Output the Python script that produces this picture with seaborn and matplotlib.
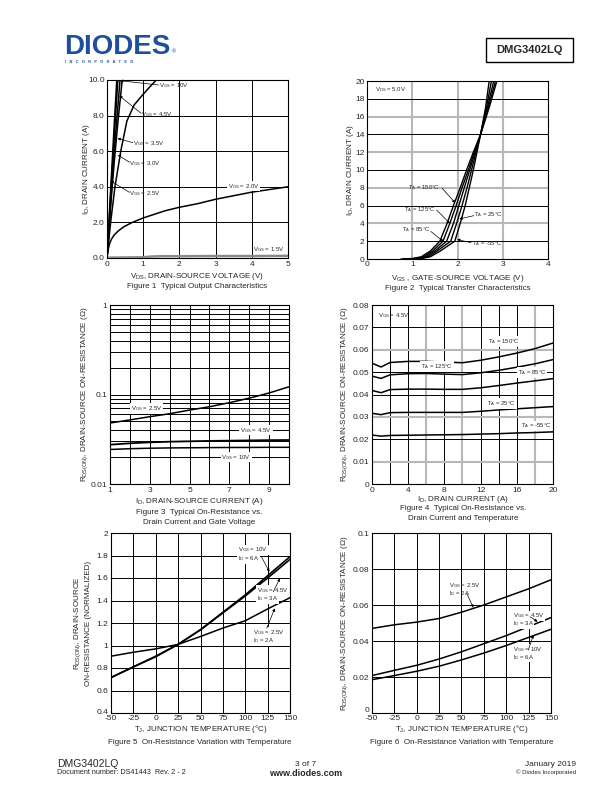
import numpy as np
import pandas as pd
import matplotlib
matplotlib.use('Agg')
import matplotlib.pyplot as plt
import matplotlib.transforms as mtrans
import seaborn as sns

sns.set_style('white')
plt.rcParams['font.family'] = ['Liberation Sans', 'DejaVu Sans']
plt.rcParams['mathtext.fontset'] = 'custom'
plt.rcParams['mathtext.rm'] = 'Liberation Sans'
plt.rcParams['mathtext.it'] = 'Liberation Sans:italic'
plt.rcParams['mathtext.default'] = 'regular'
plt.rcParams['axes.unicode_minus'] = False

# ---- Figure 1: output characteristics (VDS [V], ID [A]) ----
f1_vds_10v = [0, 0.1, 0.2, 0.27]
f1_id_10v = [0, 3.8, 7.5, 10]
f1_vds_45v = [0, 0.1, 0.2, 0.3]
f1_id_45v = [0, 3.5, 6.8, 10]
f1_vds_35v = [0, 0.1, 0.2, 0.36]
f1_id_35v = [0, 3.1, 6.0, 10]
f1_vds_30v = [0, 0.1, 0.2, 0.3, 0.42]
f1_id_30v = [0, 2.9, 5.4, 7.6, 10]
f1_vds_25v = [0, 0.05, 0.1, 0.22, 0.38, 0.55, 0.75, 1.0, 1.2, 1.36]
f1_id_25v = [0, 1.0, 2.0, 4.0, 6.0, 7.7, 8.6, 9.2, 9.65, 10]
f1_vds_20v = [0, 0.03, 0.07, 0.12, 0.2, 0.3, 0.46, 0.7, 1.0, 1.3, 1.6, 2.0, 2.5, 3.0, 3.5, 4.0, 4.5, 5.0]
f1_id_20v = [0, 0.45, 0.8, 1.05, 1.3, 1.5, 1.75, 2.0, 2.25, 2.45, 2.65, 2.85, 3.05, 3.3, 3.5, 3.7, 3.85, 4.0]
f1_vds_15v = [0, 0.5, 1.0, 1.2, 1.5, 2, 3, 4, 5]
f1_id_15v = [0.02, 0.03, 0.04, 0.08, 0.1, 0.1, 0.11, 0.11, 0.12]

# ---- Figure 2: transfer characteristics (VGS [V], ID [A]) ----
f2_id = [0, 0.05, 0.25, 0.9, 2, 4, 6, 8, 10, 12, 14, 17, 20]
f2_vgs_150 = [0.75, 1.0, 1.2, 1.4, 1.61, 1.77, 1.91, 2.06, 2.20, 2.35, 2.51, 2.70, 2.87]
f2_vgs_125 = [0.80, 1.05, 1.25, 1.45, 1.68, 1.83, 1.97, 2.10, 2.24, 2.37, 2.51, 2.68, 2.84]
f2_vgs_85 = [0.85, 1.1, 1.3, 1.5, 1.76, 1.91, 2.03, 2.15, 2.27, 2.39, 2.51, 2.66, 2.80]
f2_vgs_25 = [0.90, 1.15, 1.35, 1.55, 1.85, 1.98, 2.10, 2.21, 2.31, 2.41, 2.51, 2.64, 2.75]
f2_vgs_m55 = [0.95, 1.2, 1.4, 1.62, 1.94, 2.06, 2.17, 2.26, 2.35, 2.43, 2.51, 2.62, 2.70]

# ---- Figure 3: RDS(on) vs ID and VGS ----
f3_id = [1, 2, 3, 4, 5, 6, 7, 8, 9, 10]
f3_r_25v = [0.048, 0.052, 0.0565, 0.061, 0.067, 0.073, 0.081, 0.091, 0.104, 0.122]
f3_r_45v = [0.0275, 0.0285, 0.0292, 0.0297, 0.0300, 0.0303, 0.0305, 0.0307, 0.0309, 0.031]
f3_r_10v = [0.0243, 0.0248, 0.0251, 0.0253, 0.0254, 0.0255, 0.0256, 0.0256, 0.0257, 0.0257]

# ---- Figure 4: RDS(on) vs ID and temperature ----
f4_id = [0, 1, 2, 4, 6, 8, 10, 12, 14, 16, 18, 20]
f4_r_150 = [0.054, 0.0523, 0.0543, 0.0548, 0.0548, 0.0545, 0.0542, 0.0553, 0.0568, 0.0585, 0.0605, 0.0630]
f4_r_125 = [0.0482, 0.0472, 0.0488, 0.0493, 0.0494, 0.0491, 0.0489, 0.0497, 0.0508, 0.0522, 0.0537, 0.0556]
f4_r_85 = [0.0418, 0.0408, 0.0422, 0.0424, 0.0424, 0.0423, 0.0423, 0.0430, 0.0440, 0.0451, 0.0461, 0.0471]
f4_r_25 = [0.0316, 0.0310, 0.0319, 0.0320, 0.0320, 0.0320, 0.0320, 0.0325, 0.0331, 0.0336, 0.0341, 0.0346]
f4_r_m55 = [0.0219, 0.0214, 0.0217, 0.0218, 0.0219, 0.0220, 0.0221, 0.0223, 0.0225, 0.0228, 0.0230, 0.0233]

# ---- Figure 5: normalized RDS(on) vs TJ ----
f5_tj = [-50, -25, 0, 25, 50, 75, 100, 125, 150]
f5_n_10v = [0.715, 0.81, 0.905, 1.01, 1.14, 1.295, 1.45, 1.62, 1.79]
f5_n_45v = [0.715, 0.81, 0.90, 1.01, 1.14, 1.29, 1.44, 1.60, 1.765]
f5_n_25v = [0.905, 0.94, 0.97, 1.01, 1.08, 1.155, 1.22, 1.325, 1.425]

# ---- Figure 6: RDS(on) vs TJ ----
f6_tj = [-50, -25, 0, 25, 50, 75, 100, 125, 150]
f6_r_25v = [0.047, 0.049, 0.0505, 0.0525, 0.056, 0.060, 0.0645, 0.069, 0.074]
f6_r_45v = [0.0208, 0.0237, 0.0265, 0.030, 0.034, 0.0385, 0.043, 0.048, 0.053]
f6_r_10v = [0.0185, 0.0208, 0.0232, 0.026, 0.0295, 0.0333, 0.0375, 0.042, 0.0465]

W, H = 612, 792
fig = plt.figure(figsize=(W / 100, H / 100), dpi=100)
BLACK_GRID = dict(color='k', lw=0.7, zorder=1)
GRAY_GRID = dict(color='#b8b8b8', lw=1.5, zorder=1)
TICK_FS = 6.0
LAB_FS = 5.8
ANN_FS = 4.3
boxes = {}


def ax_at(x0, y0, x1, y1):
    ax = fig.add_axes([x0 / W, 1 - y1 / H, (x1 - x0) / W, (y1 - y0) / H])
    boxes[ax] = (x0, y0, x1, y1)
    for s in ax.spines.values():
        s.set_color('k')
        s.set_linewidth(0.8)
    ax.tick_params(length=0, labelsize=TICK_FS, pad=1.8)
    return ax


def xlab(ax, s, y_px):
    x0, y0, x1, y1 = boxes[ax]
    lab = ax.set_xlabel(s, fontsize=LAB_FS)
    lab.set_va('center')
    ax.xaxis.set_label_coords(0.5, -(y_px - y1) / (y1 - y0))


def ylab(ax, s, x_px, **kw):
    x0, y0, x1, y1 = boxes[ax]
    lab = ax.set_ylabel(s, fontsize=LAB_FS, **kw)
    lab.set_va('center')
    ax.yaxis.set_label_coords(-(x0 - x_px) / (x1 - x0), 0.5)


def lift_first_ytick(ax, px=3):
    t = ax.yaxis.get_major_ticks()[0].label1
    t.set_transform(t.get_transform() + mtrans.ScaledTranslation(0, px / 100, fig.dpi_scale_trans))


def ftext(x, y, s, **kw):
    fig.text(x / W, 1 - y / H, s, **kw)


def grid(ax, xs_k=(), xs_g=(), ys_k=(), ys_g=()):
    for v in xs_k:
        ax.axvline(v, **BLACK_GRID)
    for v in xs_g:
        ax.axvline(v, **GRAY_GRID)
    for v in ys_k:
        ax.axhline(v, **BLACK_GRID)
    for v in ys_g:
        ax.axhline(v, **GRAY_GRID)


def curve(ax, x, y, color='k', lw=1.1):
    sns.lineplot(x=x, y=y, ax=ax, color=color, lw=lw, sort=False, estimator=None, zorder=3)


def label(ax, x, y, s, ha='center', box=True):
    kw = dict(fontsize=ANN_FS, ha=ha, va='center', zorder=5)
    if box:
        kw['bbox'] = dict(facecolor='white', edgecolor='none', pad=0.6)
    ax.text(x, y, s, **kw)


def arrow(ax, x0, y0, x1, y1):
    ax.annotate('', xy=(x1, y1), xytext=(x0, y0), zorder=6,
                arrowprops=dict(arrowstyle='-|>', lw=0.5, color='k', mutation_scale=4,
                                shrinkA=0, shrinkB=0))


# ================= Header =================
ftext(64, 47, 'DIODES', fontsize=20, fontweight='bold', color='#1d4f9b', va='center')
ftext(172, 52, '\u00ae', fontsize=4, color='#1d4f9b', va='center')
ftext(65, 62, 'I   N   C   O   R   P   O   R   A   T   E   D', fontsize=2.8,
      color='#1d4f9b', va='center', fontweight='bold')
fig.patches.append(plt.Rectangle((486 / W, 1 - 62 / H), 87 / W, 24 / H, transform=fig.transFigure,
                                 fill=False, edgecolor='k', lw=1.0))
ftext(529.5, 50, 'DMG3402LQ', fontsize=8, fontweight='bold', ha='center', va='center')

# ================= Figure 1 =================
ax1 = ax_at(107, 80, 288, 258)
grid(ax1, xs_k=[1, 2, 3, 4], ys_k=[2, 4, 6, 8])
curve(ax1, f1_vds_15v, f1_id_15v, color='#8a8a8a', lw=1.8)
curve(ax1, f1_vds_20v, f1_id_20v)
curve(ax1, f1_vds_25v, f1_id_25v)
curve(ax1, f1_vds_30v, f1_id_30v)
curve(ax1, f1_vds_35v, f1_id_35v)
curve(ax1, f1_vds_45v, f1_id_45v)
curve(ax1, f1_vds_10v, f1_id_10v)
ax1.set_xlim(0, 5)
ax1.set_ylim(0, 10)
ax1.set_xticks([0, 1, 2, 3, 4, 5])
ax1.set_yticks([0, 2, 4, 6, 8, 10])
ax1.set_yticklabels(['0.0', '2.0', '4.0', '6.0', '8.0', '10.0'])
xlab(ax1, 'V$_{DS}$, DRAIN-SOURCE VOLTAGE (V)', 276)
ylab(ax1, 'I$_{D}$, DRAIN CURRENT (A)', 86)
label(ax1, 1.86, 9.68, 'V$_{GS}$ = 10V', box=False)
arrow(ax1, 1.42, 9.72, 0.36, 9.96)
label(ax1, 1.37, 8.07, 'V$_{GS}$ = 4.5V', box=False)
arrow(ax1, 0.94, 8.13, 0.34, 9.12)
label(ax1, 1.14, 6.44, 'V$_{GS}$ = 3.5V', box=False)
arrow(ax1, 0.71, 6.48, 0.29, 6.72)
label(ax1, 1.05, 5.32, 'V$_{GS}$ = 3.0V', box=False)
arrow(ax1, 0.62, 5.38, 0.30, 5.79)
label(ax1, 1.05, 3.6, 'V$_{GS}$ = 2.5V', box=False)
arrow(ax1, 0.62, 3.69, 0.10, 4.33)
label(ax1, 3.78, 4.04, 'V$_{GS}$ = 2.0V')
label(ax1, 4.46, 0.5, 'V$_{GS}$ = 1.5V', box=False)
ftext(197, 287, 'Figure 1  Typical Output Characteristics', fontsize=LAB_FS, ha='center', va='center')

# ================= Figure 2 =================
ax2 = ax_at(367, 81, 548, 259)
grid(ax2, xs_g=[1, 2, 3], ys_k=[2, 6, 10, 14, 18], ys_g=[4, 8, 12, 16])
for v in [f2_vgs_150, f2_vgs_125, f2_vgs_85, f2_vgs_25, f2_vgs_m55]:
    curve(ax2, v, f2_id, lw=1.0)
ax2.set_xlim(0, 4)
ax2.set_ylim(0, 20)
ax2.set_xticks([0, 1, 2, 3, 4])
ax2.set_yticks(range(0, 21, 2))
xlab(ax2, 'V$_{GS}$ , GATE-SOURCE VOLTAGE (V)', 278)
ylab(ax2, 'I$_{D}$, DRAIN CURRENT (A)', 351)
label(ax2, 0.18, 19.0, 'V$_{DS}$ = 5.0V', ha='left', box=False)
label(ax2, 1.27, 8.0, 'T$_{A}$ = 150\u00b0C', box=False)
arrow(ax2, 1.66, 7.95, 1.95, 6.3)
label(ax2, 1.16, 5.6, 'T$_{A}$ = 125\u00b0C', box=False)
arrow(ax2, 1.54, 5.5, 1.83, 4.0)
label(ax2, 1.10, 3.26, 'T$_{A}$ = 85\u00b0C', box=False)
arrow(ax2, 1.41, 3.1, 1.69, 1.96)
label(ax2, 2.68, 4.94, 'T$_{A}$ = 25\u00b0C', box=False)
arrow(ax2, 2.36, 4.87, 2.04, 4.5)
label(ax2, 2.65, 1.77, 'T$_{A}$ = -55\u00b0C', box=False)
arrow(ax2, 2.30, 1.83, 1.99, 2.2)
ftext(458, 289, 'Figure 2  Typical Transfer Characteristics', fontsize=LAB_FS, ha='center', va='center')

# ================= Figure 3 =================
ax3 = ax_at(110, 305, 289, 484)
ax3.set_yscale('log')
ax3.set_ylim(0.01, 1)
ax3.set_xlim(1, 10)
ax3.grid(True, which='both', axis='y', color='k', lw=0.7, zorder=1)
grid(ax3, xs_k=range(2, 10))
curve(ax3, f3_id, f3_r_25v)
curve(ax3, f3_id, f3_r_45v, lw=1.3)
curve(ax3, f3_id, f3_r_10v)
ax3.set_xticks([1, 3, 5, 7, 9])
ax3.set_yticks([0.01, 0.1, 1])
ax3.set_yticklabels(['0.01', '0.1', '1'])
ax3.tick_params(which='minor', length=0)
xlab(ax3, 'I$_{D}$, DRAIN-SOURCE CURRENT (A)', 501)
ylab(ax3, 'R$_{DS(ON)}$, DRAIN-SOURCE ON-RESISTANCE (\u03a9)', 85)
label(ax3, 2.84, 0.07, 'V$_{GS}$ = 2.5V')
label(ax3, 8.34, 0.04, 'V$_{GS}$ = 4.5V')
label(ax3, 7.35, 0.02, 'V$_{GS}$ = 10V')
ftext(199, 512, 'Figure 3  Typical On-Resistance vs.', fontsize=LAB_FS, ha='center', va='center')
ftext(199, 522, 'Drain Current and Gate Voltage', fontsize=LAB_FS, ha='center', va='center')

# ================= Figure 4 =================
ax4 = ax_at(372, 305, 553, 484)
grid(ax4, xs_k=[2, 4, 8, 12, 14, 16], xs_g=[6, 10, 18],
     ys_k=[0.02, 0.04, 0.05, 0.07], ys_g=[0.01, 0.03, 0.06])
for r in [f4_r_150, f4_r_125, f4_r_85, f4_r_25, f4_r_m55]:
    curve(ax4, f4_id, r)
ax4.set_xlim(0, 20)
ax4.set_ylim(0, 0.08)
ax4.set_xticks(range(0, 21, 4))
ax4.set_yticks([0, 0.01, 0.02, 0.03, 0.04, 0.05, 0.06, 0.07, 0.08])
ax4.set_yticklabels(['0', '0.01', '0.02', '0.03', '0.04', '0.05', '0.06', '0.07', '0.08'])
xlab(ax4, 'I$_{D}$, DRAIN CURRENT (A)', 499)
ylab(ax4, 'R$_{DS(ON)}$, DRAIN-SOURCE ON-RESISTANCE (\u03a9)', 345)
label(ax4, 0.7, 0.0755, 'V$_{GS}$ = 4.5V', ha='left', box=False)
label(ax4, 14.6, 0.0636, 'T$_{A}$ = 150\u00b0C')
label(ax4, 7.2, 0.0524, 'T$_{A}$ = 125\u00b0C')
label(ax4, 17.7, 0.0498, 'T$_{A}$ = 85\u00b0C')
label(ax4, 14.3, 0.036, 'T$_{A}$ = 25\u00b0C')
label(ax4, 18.1, 0.0259, 'T$_{A}$ = -55\u00b0C')
ftext(463, 509, 'Figure 4  Typical On-Resistance vs.', fontsize=LAB_FS, ha='center', va='center')
ftext(463, 519, 'Drain Current and Temperature', fontsize=LAB_FS, ha='center', va='center')

# ================= Figure 5 =================
ax5 = ax_at(111, 533, 290, 713)
grid(ax5, xs_k=[-25, 0, 25, 50, 75, 100, 125], ys_k=[0.6, 0.8, 1.0, 1.2, 1.4, 1.6, 1.8])
curve(ax5, f5_tj, f5_n_25v)
curve(ax5, f5_tj, f5_n_45v, lw=1.2)
curve(ax5, f5_tj, f5_n_10v, lw=1.2)
ax5.set_xlim(-50, 150)
ax5.set_ylim(0.4, 2.0)
ax5.set_xticks(range(-50, 151, 25))
ax5.set_yticks([0.4, 0.6, 0.8, 1.0, 1.2, 1.4, 1.6, 1.8, 2.0])
ax5.set_yticklabels(['0.4', '0.6', '0.8', '1', '1.2', '1.4', '1.6', '1.8', '2'])
lift_first_ytick(ax5, 2)
xlab(ax5, 'T$_{J}$, JUNCTION TEMPERATURE (\u00b0C)', 729)
ylab(ax5, 'R$_{DS(ON)}$, DRAIN-SOURCE\nON-RESISTANCE (NORMALIZED)', 82, linespacing=1.3)
label(ax5, 92, 1.85, 'V$_{GS}$ = 10V', ha='left')
label(ax5, 92, 1.775, 'I$_{D}$ = 6A', ha='left')
arrow(ax5, 118, 1.79, 127, 1.655)
label(ax5, 112.8, 1.487, 'V$_{GS}$ = 4.5V', ha='left')
label(ax5, 112.8, 1.42, 'I$_{D}$ = 3A', ha='left')
arrow(ax5, 131.3, 1.478, 138.8, 1.597)
label(ax5, 109, 1.114, 'V$_{GS}$ = 2.5V', ha='left')
label(ax5, 109, 1.046, 'I$_{D}$ = 2A', ha='left')
arrow(ax5, 124, 1.153, 133, 1.33)
ftext(200, 742, 'Figure 5  On-Resistance Variation with Temperature', fontsize=LAB_FS, ha='center', va='center')

# ================= Figure 6 =================
ax6 = ax_at(372, 533, 551, 713)
grid(ax6, xs_k=[-25, 0, 25, 50, 75, 100, 125], ys_k=[0.02, 0.04, 0.06, 0.08])
curve(ax6, f6_tj, f6_r_25v)
curve(ax6, f6_tj, f6_r_45v)
curve(ax6, f6_tj, f6_r_10v)
ax6.set_xlim(-50, 150)
ax6.set_ylim(0, 0.1)
ax6.set_xticks(range(-50, 151, 25))
ax6.set_yticks([0, 0.02, 0.04, 0.06, 0.08, 0.1])
ax6.set_yticklabels(['0', '0.02', '0.04', '0.06', '0.08', '0.1'])
lift_first_ytick(ax6, 3)
xlab(ax6, 'T$_{J}$, JUNCTION TEMPERATURE (\u00b0C)', 729)
ylab(ax6, 'R$_{DS(ON)}$, DRAIN-SOURCE ON-RESISTANCE (\u03a9)', 345)
label(ax6, 36, 0.0706, 'V$_{GS}$ = 2.5V', ha='left', box=False)
label(ax6, 36, 0.0665, 'I$_{D}$ = 2A', ha='left', box=False)
arrow(ax6, 55.8, 0.0665, 63.2, 0.0585)
label(ax6, 107, 0.054, 'V$_{GS}$ = 4.5V', ha='left')
label(ax6, 107, 0.0497, 'I$_{D}$ = 3A', ha='left')
arrow(ax6, 126.5, 0.0535, 135, 0.0507)
label(ax6, 108, 0.0354, 'V$_{GS}$ = 10V', ha='left')
label(ax6, 108, 0.031, 'I$_{D}$ = 6A', ha='left')
arrow(ax6, 124.7, 0.035, 130.3, 0.0433)
ftext(462, 742, 'Figure 6  On-Resistance Variation with Temperature', fontsize=LAB_FS, ha='center', va='center')

# ================= Footer =================
ftext(57, 764, 'DMG3402LQ', fontsize=7.5, va='center')
ftext(57, 773, 'Document number: DS41443  Rev. 2 - 2', fontsize=5.2, va='center')
ftext(306, 764, '3 of 7', fontsize=6, ha='center', va='center')
ftext(306, 773, 'www.diodes.com', fontsize=6.5, fontweight='bold', ha='center', va='center')
ftext(576, 764, 'January 2019', fontsize=6, ha='right', va='center')
ftext(576, 772, '\u00a9 Diodes Incorporated', fontsize=4.3, ha='right', va='center')

fig.savefig('out.png', dpi=100)
